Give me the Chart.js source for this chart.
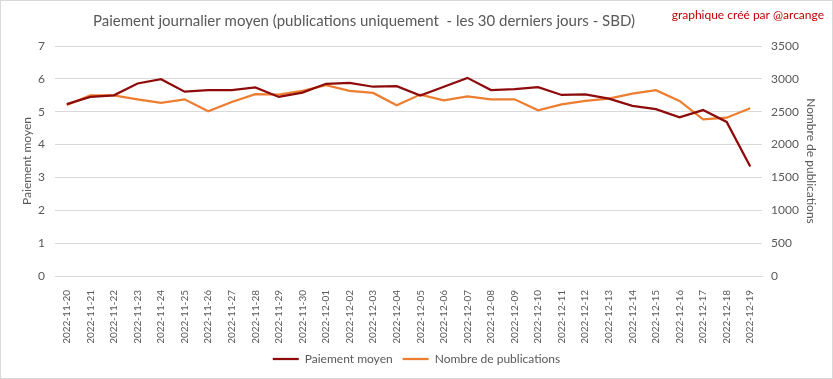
<!DOCTYPE html>
<html><head><meta charset="utf-8">
<script src="https://cdn.jsdelivr.net/npm/chart.js@4"></script>
<style>html,body{margin:0;padding:0;background:#fff}#wrap{width:833px;height:379px;position:relative}</style>
</head><body><div id="wrap"><canvas id="c" width="833" height="379"></canvas></div>
<script>
const categories = ["2022-11-20","2022-11-21","2022-11-22","2022-11-23","2022-11-24","2022-11-25","2022-11-26","2022-11-27","2022-11-28","2022-11-29","2022-11-30","2022-12-01","2022-12-02","2022-12-03","2022-12-04","2022-12-05","2022-12-06","2022-12-07","2022-12-08","2022-12-09","2022-12-10","2022-12-11","2022-12-12","2022-12-13","2022-12-14","2022-12-15","2022-12-16","2022-12-17","2022-12-18","2022-12-19"];
const paiementMoyen = [5.23,5.45,5.50,5.86,5.99,5.61,5.66,5.66,5.74,5.45,5.58,5.85,5.88,5.76,5.78,5.49,5.76,6.03,5.66,5.69,5.75,5.51,5.53,5.40,5.18,5.08,4.83,5.05,4.69,3.33];
const nombrePublications = [2602,2750,2750,2689,2633,2689,2506,2648,2766,2760,2816,2903,2816,2786,2598,2761,2674,2735,2689,2689,2521,2613,2664,2700,2776,2827,2664,2384,2409,2552];
const leftTicks = [0,1,2,3,4,5,6,7];
const rightTicks = [0,500,1000,1500,2000,2500,3000,3500];
const titleText = "Paiement journalier moyen (publications uniquement  - les 30 derniers jours - SBD)";
const creditText = "graphique créé par @arcange";

const FONT = "Lato, 'Open Sans', sans-serif";
const GRAY = "#595959";

const deco = {
  id: 'deco',
  afterDraw(chart) {
    const ctx = chart.ctx;
    ctx.save();
    ctx.strokeStyle = '#d9d9d9';
    ctx.lineWidth = 1;
    ctx.strokeRect(0.5, 0.5, chart.width - 1, chart.height - 1);
    ctx.fillStyle = GRAY;
    ctx.font = "15px " + FONT;
    ctx.textAlign = 'center';
    ctx.textBaseline = 'middle';
    ctx.fillText(titleText, 364, 21);
    ctx.fillStyle = '#c00000';
    ctx.font = "12px " + FONT;
    ctx.textAlign = 'right';
    ctx.fillText(creditText, 824, 15);
    ctx.restore();
  }
};

new Chart(document.getElementById('c'), {
  type: 'line',
  data: {
    labels: categories,
    datasets: [
      { label: 'Paiement moyen', data: paiementMoyen, yAxisID: 'y', borderColor: '#8e0b0b', backgroundColor: '#8e0b0b', borderWidth: 2.25, pointRadius: 0, tension: 0 },
      { label: 'Nombre de publications', data: nombrePublications, yAxisID: 'y1', borderColor: '#ed7d31', backgroundColor: '#ed7d31', borderWidth: 2.25, pointRadius: 0, tension: 0 }
    ]
  },
  options: {
    responsive: false,
    animation: false,
    layout: { padding: { top: 46, bottom: 4, left: 0, right: 0 } },
    plugins: {
      title: { display: false },
      tooltip: { enabled: false },
      legend: {
        position: 'bottom',
        labels: {
          usePointStyle: true, pointStyle: 'line', pointStyleWidth: 26,
          color: GRAY, font: { family: FONT, size: 12 }, padding: 10, boxHeight: 2
        }
      }
    },
    scales: {
      x: {
        offset: true,
        grid: { display: false },
        border: { display: true, color: '#d9d9d9' },
        ticks: { color: GRAY, font: { family: FONT, size: 10 }, minRotation: 90, maxRotation: 90, autoSkip: false, padding: 6 },
        afterFit(s) { s.height = 67; }
      },
      y: {
        position: 'left', min: 0, max: 7,
        afterBuildTicks(s) { s.ticks = leftTicks.map(v => ({ value: v })); },
        grid: { color: '#d9d9d9', drawTicks: false },
        border: { display: false },
        ticks: { color: GRAY, font: { family: FONT, size: 12 }, padding: 10 },
        title: { display: true, text: 'Paiement moyen', color: GRAY, font: { family: FONT, size: 12 }, padding: { top: 20, bottom: 0 } },
        afterFit(s) { s.width = 55; }
      },
      y1: {
        position: 'right', min: 0, max: 3500,
        afterBuildTicks(s) { s.ticks = rightTicks.map(v => ({ value: v })); },
        grid: { display: false, drawTicks: false },
        border: { display: false },
        ticks: { color: GRAY, font: { family: FONT, size: 12 }, padding: 9, callback: (v) => String(v) },
        title: { display: true, text: 'Nombre de publications', color: GRAY, font: { family: FONT, size: 12 }, padding: { top: 15, bottom: 0 } },
        afterFit(s) { s.width = 71; }
      }
    }
  },
  plugins: [deco]
});
</script></body></html>
